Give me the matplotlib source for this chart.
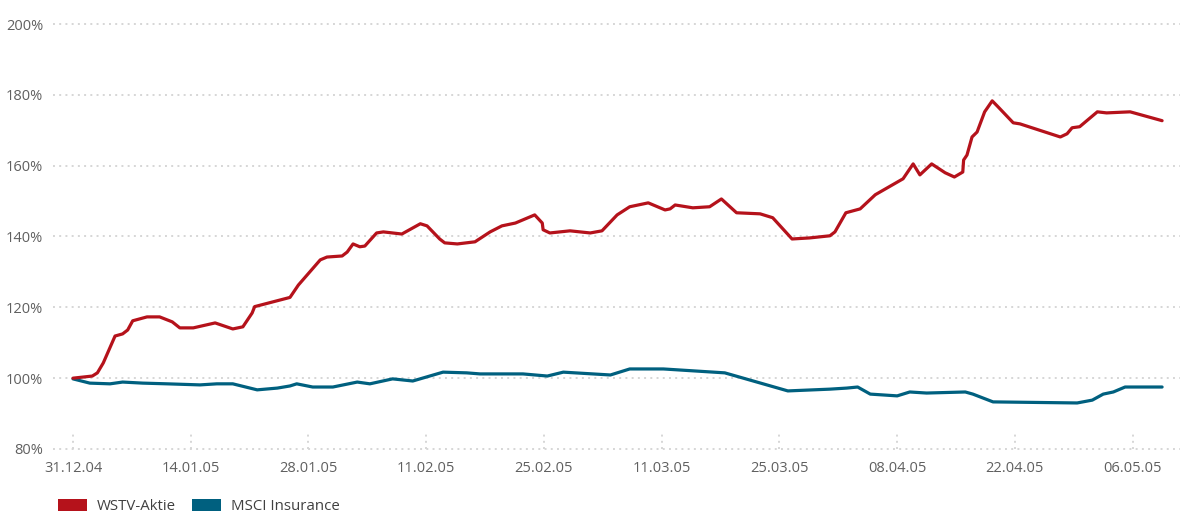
import numpy as np
import matplotlib
matplotlib.use('Agg')
import matplotlib.pyplot as plt
from matplotlib.patches import Patch

# days since 31.12.04 and indexed values (%)
wstv_days = [0, 2.3, 2.9, 3.6, 5.0, 5.9, 6.5, 7.1, 8.8, 10.3, 11.8, 12.7, 14.3, 16.9, 19.0,
             20.2, 21.3, 21.6, 25.8, 26.8, 29.4, 30.2, 32.0, 32.6, 33.3, 34.1, 34.7, 36.1,
             36.9, 39.1, 41.3, 42.1, 43.6, 44.2, 45.7, 47.8, 49.6, 51.0, 52.6, 54.9, 55.8,
             55.9, 56.7, 59.1, 61.5, 62.9, 64.7, 66.2, 68.4, 70.4, 71.0, 71.6, 73.7, 75.7,
             77.1, 78.9, 81.7, 83.2, 85.5, 87.6, 90.0, 90.6, 91.9, 93.6, 95.4, 98.7, 99.9,
             100.7, 102.1, 103.7, 104.8, 105.8, 105.9, 106.3, 106.9, 107.5, 108.4, 109.3,
             110.0, 111.8, 112.6, 117.4, 118.2, 118.8, 119.7, 121.8, 122.9, 125.7, 129.5]
wstv_vals = [100.0, 100.6, 101.5, 104.3, 111.9, 112.5, 113.6, 116.2, 117.3, 117.3, 115.9,
             114.2, 114.2, 115.6, 113.9, 114.5, 118.4, 120.2, 122.8, 126.3, 133.4, 134.2,
             134.5, 135.6, 137.9, 137.1, 137.3, 141.0, 141.3, 140.7, 143.6, 143.0, 139.3,
             138.2, 137.9, 138.5, 141.3, 143.0, 143.8, 146.1, 143.8, 141.9, 141.0, 141.6,
             141.0, 141.6, 146.1, 148.4, 149.5, 147.5, 147.8, 148.9, 148.1, 148.4, 150.6,
             146.7, 146.4, 145.3, 139.3, 139.6, 140.2, 141.3, 146.7, 147.8, 151.8, 156.3,
             160.5, 157.4, 160.5, 158.0, 156.8, 158.2, 161.6, 163.0, 168.1, 169.5, 175.2,
             178.3, 176.6, 172.1, 171.8, 168.1, 169.0, 170.7, 171.0, 175.2, 174.9, 175.2, 172.7]

msci_days = [0, 2.0, 4.4, 5.9, 8.3, 11.2, 15.1, 17.1, 19.0, 21.9, 24.3, 25.8, 26.6, 28.5,
             30.9, 33.8, 35.3, 38.0, 40.4, 44.0, 46.8, 48.4, 53.5, 56.4, 58.3, 63.9, 66.2,
             70.2, 77.5, 85.0, 90.0, 92.0, 93.3, 94.8, 98.0, 99.5, 101.5, 106.1, 107.0,
             109.4, 119.4, 121.2, 122.5, 123.7, 125.1, 129.5]
msci_vals = [99.8, 98.6, 98.4, 98.9, 98.6, 98.4, 98.1, 98.4, 98.4, 96.7, 97.2, 97.8, 98.4,
             97.5, 97.5, 98.9, 98.4, 99.8, 99.2, 101.7, 101.5, 101.2, 101.2, 100.6, 101.7,
             100.9, 102.6, 102.6, 101.5, 96.4, 96.9, 97.2, 97.5, 95.5, 95.0, 96.1, 95.8,
             96.1, 95.5, 93.3, 93.0, 93.8, 95.5, 96.1, 97.5, 97.5]

tick_days = [0, 14, 28, 42, 56, 70, 84, 98, 112, 126]
tick_labels = ['31.12.04', '14.01.05', '28.01.05', '11.02.05', '25.02.05',
               '11.03.05', '25.03.05', '08.04.05', '22.04.05', '06.05.05']
y_ticks = [80, 100, 120, 140, 160, 180, 200]

red = '#b5121b'
blue = '#00607f'
grid_c = '#d6d6d6'
txt_c = '#606060'

plt.rcParams['font.family'] = ['Open Sans', 'DejaVu Sans']

fig = plt.figure(figsize=(11.89, 5.16), dpi=100)
ax = fig.add_axes([53 / 1189, 1 - 449 / 516, (1180 - 53) / 1189, (449 - 24) / 516])

for v in y_ticks:
    ax.axhline(v, color=grid_c, lw=1.4, ls=(0, (1, 2.2)), zorder=0, clip_on=False)
ax.vlines(tick_days, 80, 85.2, color=grid_c, lw=1.4, ls=(0, (1, 2.2)), zorder=0)

ax.plot(msci_days, msci_vals, color=blue, lw=2.3, solid_joinstyle='round',
        solid_capstyle='round', zorder=3)
ax.plot(wstv_days, wstv_vals, color=red, lw=2.3, solid_joinstyle='round',
        solid_capstyle='round', zorder=4)

ax.set_xlim((53 - 73) / 8.41, (1180 - 73) / 8.41)
ax.set_ylim(80, 200)
ax.set_xticks(tick_days)
ax.set_xticklabels(tick_labels)
ax.set_yticks(y_ticks)
ax.set_yticklabels([f'{v}%' for v in y_ticks])
ax.tick_params(length=0, labelsize=10.5, colors=txt_c)
ax.tick_params(axis='x', pad=9)
ax.tick_params(axis='y', pad=7)
for s in ax.spines.values():
    s.set_visible(False)

handles = [Patch(facecolor=red, label='WSTV-Aktie'), Patch(facecolor=blue, label='MSCI Insurance')]
leg = fig.legend(handles=handles, loc='lower left', bbox_to_anchor=(44 / 1189, -0.022), ncol=2,
                 frameon=False, fontsize=10.8, handlelength=1.95, handleheight=0.85,
                 handletextpad=0.65, columnspacing=1.1)
for t in leg.get_texts():
    t.set_color('#404040')

fig.savefig('out.png', dpi=100)
